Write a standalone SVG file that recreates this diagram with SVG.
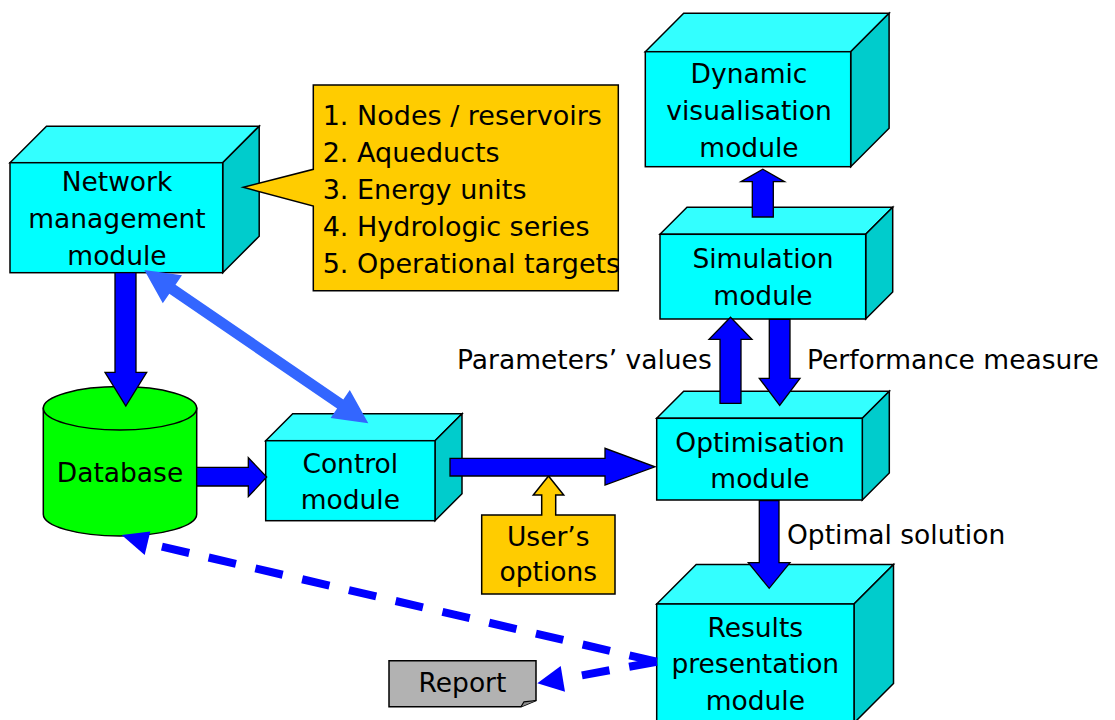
<svg xmlns="http://www.w3.org/2000/svg" width="1115" height="720" viewBox="0 0 1115 720">
<style>
.front{fill:#00FFFF;stroke:#000;stroke-width:1.5;stroke-linejoin:miter}
.top{fill:#33FFFF;stroke:#000;stroke-width:1.5}
.side{fill:#00CCCC;stroke:#000;stroke-width:1.5}
.t{font-family:"DejaVu Sans","Liberation Sans",sans-serif;font-size:26.5px;fill:#000}
.n{font-size:27px}
.c{text-anchor:middle}
.arrow{fill:#0000FF;stroke:#000;stroke-width:1.3;stroke-linejoin:miter}
.dash{fill:none;stroke:#0000FF;stroke-width:8;stroke-dasharray:28 20}
.dhead{fill:#0000FF}
.note{fill:#FFCC00;stroke:#000;stroke-width:1.5}
</style>
<rect width="1115" height="720" fill="#fff"/>

<g id="network">
<polygon class="top" points="10,162.7 46.5,126.2 259.2,126.2 222.7,162.7"/>
<polygon class="side" points="222.7,162.7 259.2,126.2 259.2,236.2 222.7,272.7"/>
<rect class="front" x="10" y="162.7" width="212.7" height="110"/>
<text class="t c" x="117" y="190.7">Network</text>
<text class="t c" x="117" y="227.7">management</text>
<text class="t c" x="117" y="264.7">module</text>
</g>

<g id="network-items">
<path class="note" d="M313.3,85 H618.3 V290.7 H313.3 V206 L243.3,187.3 L313.3,169.3 Z"/>
<text class="t n" x="322.7" y="125">1. Nodes / reservoirs</text>
<text class="t n" x="322.7" y="162">2. Aqueducts</text>
<text class="t n" x="322.7" y="199">3. Energy units</text>
<text class="t n" x="322.7" y="236">4. Hydrologic series</text>
<text class="t n" x="322.7" y="273">5. Operational targets</text>
</g>

<g id="database">
<path d="M43.3,408.3 V514.3 A76.7,21.7 0 0 0 196.7,514.3 V408.3 Z" fill="#00FF00" stroke="#000" stroke-width="1.5"/>
<ellipse cx="120" cy="408.3" rx="76.7" ry="21.7" fill="#00FF00" stroke="#000" stroke-width="1.5"/>
<text class="t c" x="120" y="482">Database</text>
</g>

<g id="control">
<polygon class="top" points="265.7,440.7 292.7,413.7 462,413.7 435,440.7"/>
<polygon class="side" points="435,440.7 462,413.7 462,493.7 435,520.7"/>
<rect class="front" x="265.7" y="440.7" width="169.3" height="80"/>
<text class="t c" x="350.3" y="473">Control</text>
<text class="t c" x="350.3" y="509">module</text>
</g>

<g id="users-options">
<path class="note" d="M481.7,515 H541.7 V495 H533.3 L548.5,476 L563.7,495 H555.7 V515 H615 V594 H481.7 Z"/>
<text class="t c" x="548.3" y="546">User’s</text>
<text class="t c" x="548.3" y="581">options</text>
</g>

<g id="dynamic">
<polygon class="top" points="645.3,51.7 683.7,13.3 889.1,13.3 850.7,51.7"/>
<polygon class="side" points="850.7,51.7 889.1,13.3 889.1,128.3 850.7,166.7"/>
<rect class="front" x="645.3" y="51.7" width="205.4" height="115"/>
<text class="t c" x="749" y="83.3">Dynamic</text>
<text class="t c" x="749" y="120.3">visualisation</text>
<text class="t c" x="749" y="157">module</text>
</g>

<g id="simulation">
<polygon class="top" points="660,234.3 687,207.3 892.7,207.3 865.7,234.3"/>
<polygon class="side" points="865.7,234.3 892.7,207.3 892.7,292 865.7,319"/>
<rect class="front" x="660" y="234.3" width="205.7" height="84.7"/>
<text class="t c" x="763" y="268.3">Simulation</text>
<text class="t c" x="763" y="305">module</text>
</g>

<g id="optimisation">
<polygon class="top" points="656.7,418.3 683.7,391.3 889.3,391.3 862.3,418.3"/>
<polygon class="side" points="862.3,418.3 889.3,391.3 889.3,473 862.3,500"/>
<rect class="front" x="656.7" y="418.3" width="205.6" height="81.7"/>
<text class="t c" x="760" y="451.7">Optimisation</text>
<text class="t c" x="760" y="488.3">module</text>
</g>

<g id="results">
<polygon class="top" points="656.7,604 696.2,564.5 893.5,564.5 854,604"/>
<polygon class="side" points="854,604 893.5,564.5 893.5,683.5 854,723"/>
<rect class="front" x="656.7" y="604" width="197.3" height="119"/>
<text class="t c" x="755.3" y="636.7">Results</text>
<text class="t c" x="755.3" y="673.3">presentation</text>
<text class="t c" x="755.3" y="710">module</text>
</g>

<g id="report">
<path d="M389,660.7 H536 V700.5 L521,706.7 H389 Z" fill="#B2B2B2" stroke="#000" stroke-width="1.5"/>
<path d="M521,706.7 L524,701.8 L536,700.5" fill="#8C8C8C" stroke="#000" stroke-width="1.2"/>
<text class="t c" x="462.5" y="692">Report</text>
</g>

<g id="connectors">
<polygon class="arrow" points="115,272.7 136,272.7 136,372.3 146.7,372.3 125.8,406 105,372.3 115,372.3"/>
<polygon fill="#3366FF" points="144.3,270 182,275.2 175.5,284.7 343.3,399.6 349.8,390.1 368.3,423.3 330.6,418.1 337.1,408.6 169.3,293.7 162.8,303.2"/>
<polygon class="arrow" points="196.7,467.3 248.3,467.3 248.3,457.7 266.7,477 248.3,496.7 248.3,486 196.7,486"/>
<polygon class="arrow" points="450,458.3 605,458.3 605,448.3 655,466.8 605,485 605,476 450,476"/>
<polygon class="arrow" points="752.3,217 752.3,181.7 741,181.7 762.8,169.3 784.5,181.7 773.3,181.7 773.3,217"/>
<polygon class="arrow" points="720,403.3 720,339.3 709,339.3 730.5,317.3 752,339.3 741,339.3 741,403.3"/>
<polygon class="arrow" points="769.3,319.3 790,319.3 790,378.3 800,378.3 779.7,405.5 759.3,378.3 769.3,378.3"/>
<polygon class="arrow" points="759.3,500.7 779,500.7 779,562.7 790,562.7 769.2,588.3 748.3,562.7 759.3,562.7"/>
<line class="dash" x1="656.7" y1="661.7" x2="147.5" y2="543.3"/>
<polygon class="dhead" points="121.7,535 150.3,531.6 144.7,555"/>
<line class="dash" x1="656.7" y1="661.7" x2="562.8" y2="678.8"/>
<polygon class="dhead" points="537.3,683.3 560.7,666 565,691.7"/>
</g>

<g id="labels">
<text class="t" x="457" y="369.3">Parameters’ values</text>
<text class="t" x="807" y="369.3">Performance measure</text>
<text class="t" x="787" y="544">Optimal solution</text>
</g>
</svg>
